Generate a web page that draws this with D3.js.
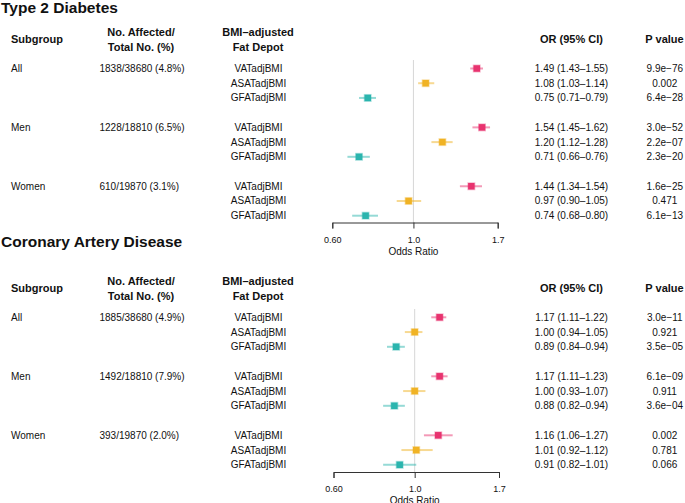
<!DOCTYPE html>
<html>
<head>
<meta charset="utf-8">
<script src="https://cdn.jsdelivr.net/npm/d3@7"></script>
<style>
  html, body { margin: 0; padding: 0; background: #fff; }
  svg { display: block; font-family: "Liberation Sans", Arial, Helvetica, sans-serif; }
</style>
</head>
<body>
<svg id="chart" width="685" height="503"></svg>
<script>
// ---------- DATA ----------
const subgroups = ["All", "Men", "Women"];
const depots = ["VATadjBMI", "ASATadjBMI", "GFATadjBMI"];
const depotColors = ["#E8336F", "#F0B325", "#2BB5AE"];
const tickValues = [0.6, 1.0, 1.7];
const tickLabels = ["0.60", "1.0", "1.7"];

// Type 2 Diabetes
const t2dCounts = ["1838/38680 (4.8%)", "1228/18810 (6.5%)", "610/19870 (3.1%)"];
const t2dOR  = [1.49, 1.08, 0.75, 1.54, 1.20, 0.71, 1.44, 0.97, 0.74];
const t2dLo  = [1.43, 1.03, 0.71, 1.45, 1.12, 0.66, 1.34, 0.90, 0.68];
const t2dHi  = [1.55, 1.14, 0.79, 1.62, 1.28, 0.76, 1.54, 1.05, 0.80];
const t2dP   = ["9.9e\u221276", "0.002", "6.4e\u221228", "3.0e\u221252", "2.2e\u221207", "2.3e\u221220", "1.6e\u221225", "0.471", "6.1e\u221213"];

// Coronary Artery Disease
const cadCounts = ["1885/38680 (4.9%)", "1492/18810 (7.9%)", "393/19870 (2.0%)"];
const cadOR  = [1.17, 1.00, 0.89, 1.17, 1.00, 0.88, 1.16, 1.01, 0.91];
const cadLo  = [1.11, 0.94, 0.84, 1.11, 0.93, 0.82, 1.06, 0.92, 0.82];
const cadHi  = [1.22, 1.05, 0.94, 1.23, 1.07, 0.94, 1.27, 1.12, 1.01];
const cadP   = ["3.0e\u221211", "0.921", "3.5e\u221205", "6.1e\u221209", "0.911", "3.6e\u221204", "0.002", "0.781", "0.066"];

// ---------- DRAW ----------
const svg = d3.select("#chart");
const fmt = d3.format(".2f");

function drawPanel(cfg) {
  const g = svg.append("g");
  const x = d3.scaleLog().domain([tickValues[0], tickValues[2]]).range(cfg.xRange);
  const y = d3.scaleLinear().domain([0, 10]).range(cfg.yRange);

  // title
  g.append("text").attr("x", 1).attr("y", cfg.titleY)
    .attr("font-size", 15.5).attr("font-weight", "bold").attr("fill", "#111")
    .text(cfg.title);

  // headers
  const hdr = (txt, xx, yy, anchor) => g.append("text")
    .attr("x", xx).attr("y", yy).attr("dy", "0.35em")
    .attr("text-anchor", anchor).attr("font-size", 11).attr("font-weight", "bold")
    .attr("fill", "#111").text(txt);
  hdr("Subgroup", 11, cfg.hdrMid, "start");
  hdr("No. Affected/", 141, cfg.hdr1, "middle");
  hdr("Total No. (%)", 141, cfg.hdr2, "middle");
  hdr("BMI\u2013adjusted", 258, cfg.hdr1, "middle");
  hdr("Fat Depot", 258, cfg.hdr2, "middle");
  hdr("OR (95% CI)", 571.5, cfg.hdrMid, "middle");
  hdr("P value", 664.5, cfg.hdrMid, "middle");

  // reference line at OR = 1
  g.append("line")
    .attr("x1", x(1)).attr("x2", x(1))
    .attr("y1", cfg.vTop).attr("y2", cfg.axisY)
    .attr("stroke", "#d6d6d6").attr("stroke-width", 1);

  const rows = [];
  subgroups.forEach((sg, gi) => {
    depots.forEach((dp, di) => {
      const k = gi * 3 + di;
      rows.push({ gi, di, idx: gi * 4 + di, sg, dp,
        or: cfg.or[k], lo: cfg.lo[k], hi: cfg.hi[k], p: cfg.p[k] });
    });
  });

  const txt = (sel) => sel.attr("font-size", 10).attr("fill", "#111").attr("dy", "0.35em");

  // subgroup labels and counts
  subgroups.forEach((sg, gi) => {
    g.append("text").call(txt).attr("x", 11).attr("y", y(gi * 4)).text(sg);
    g.append("text").call(txt).attr("x", 99.5).attr("y", y(gi * 4)).text(cfg.counts[gi]);
  });

  const r = g.selectAll("g.row").data(rows).join("g").attr("class", "row");
  r.append("text").call(txt).attr("x", 258.5).attr("y", d => y(d.idx))
    .attr("text-anchor", "middle").text(d => d.dp);
  r.append("text").call(txt).attr("x", 571.5).attr("y", d => y(d.idx))
    .attr("text-anchor", "middle")
    .text(d => `${fmt(d.or)} (${fmt(d.lo)}\u2013${fmt(d.hi)})`);
  r.append("text").call(txt).attr("x", 664.8).attr("y", d => y(d.idx))
    .attr("text-anchor", "middle").text(d => d.p);

  // CI lines
  r.append("line")
    .attr("x1", d => x(d.lo)).attr("x2", d => x(d.hi))
    .attr("y1", d => y(d.idx)).attr("y2", d => y(d.idx))
    .attr("stroke", d => depotColors[d.di]).attr("stroke-opacity", 0.5)
    .attr("stroke-width", 2);
  // point markers
  const s = 6.5;
  r.append("rect")
    .attr("x", d => x(d.or) - s / 2).attr("y", d => y(d.idx) - s / 2)
    .attr("width", s).attr("height", s)
    .attr("fill", d => depotColors[d.di])
    .attr("stroke", d => depotColors[d.di]).attr("stroke-opacity", 0.35)
    .attr("stroke-width", 1.5);

  // axis
  const ax = g.append("g").attr("transform", `translate(0,${cfg.axisY})`)
    .call(d3.axisBottom(x).tickValues(tickValues)
      .tickFormat((d, i) => tickLabels[i]).tickSizeOuter(0).tickSize(6).tickPadding(8));
  ax.select(".domain").attr("stroke", "#333");
  ax.selectAll(".tick line").attr("stroke", "#333");
  ax.selectAll(".tick text").attr("font-size", 9).attr("fill", "#111")
    .attr("font-family", "\"Liberation Sans\", Arial, sans-serif");
  g.append("text").attr("x", x(1)).attr("y", cfg.axisY + 28.5).attr("dy", "0.35em")
    .attr("text-anchor", "middle").attr("font-size", 10).attr("fill", "#111")
    .text("Odds Ratio");
}

drawPanel({
  title: "Type 2 Diabetes", titleY: 12.5,
  hdr1: 31.7, hdr2: 46.7, hdrMid: 39.3,
  xRange: [332.3, 497.7], yRange: [68.5, 215.7],
  vTop: 60, axisY: 222.5,
  counts: t2dCounts, or: t2dOR, lo: t2dLo, hi: t2dHi, p: t2dP
});
drawPanel({
  title: "Coronary Artery Disease", titleY: 247,
  hdr1: 280.7, hdr2: 296, hdrMid: 288.3,
  xRange: [333.5, 499], yRange: [317.3, 464.8],
  vTop: 309, axisY: 472,
  counts: cadCounts, or: cadOR, lo: cadLo, hi: cadHi, p: cadP
});
</script>
</body>
</html>
